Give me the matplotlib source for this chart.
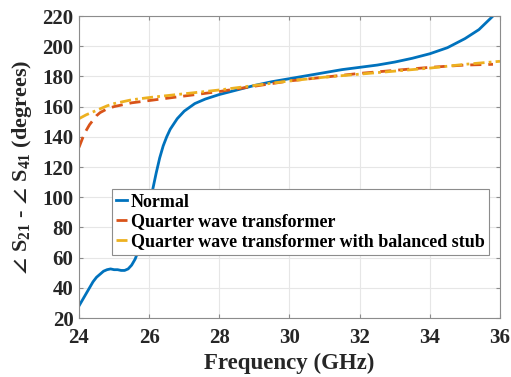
import matplotlib.pyplot as plt
import numpy as np

# Frequency (GHz) and phase difference (degrees)
freq_normal = [24.0, 24.1, 24.2, 24.3, 24.4, 24.5, 24.6, 24.7, 24.8, 24.9, 25.0, 25.1, 25.2, 25.3,
               25.4, 25.5, 25.6, 25.7, 25.8, 25.9, 26.0, 26.1, 26.2, 26.3, 26.4, 26.5, 26.6,
               26.8, 27.0, 27.3, 27.6, 28.0, 28.5, 29.0, 29.5, 30.0, 30.5, 31.0, 31.5, 32.0,
               32.5, 33.0, 33.5, 34.0, 34.5, 35.0, 35.4, 35.8]
phase_normal = [28, 32, 36, 40, 44, 47, 49, 51, 52, 52.5, 52, 52, 51.5, 51.5,
                52.5, 55, 59, 65, 73, 83, 94, 105, 116, 126, 134, 140, 145,
                152, 157, 162, 165, 168, 171, 174, 176.5, 178.5, 180.5, 182.5, 184.5, 186,
                187.5, 189.5, 192, 195, 199, 205, 211, 220]

freq_qwt = [24.0, 24.1, 24.2, 24.3, 24.4, 24.5, 24.6, 24.8, 25.0, 25.5, 26.0, 27.0, 28.0,
            29.0, 30.0, 31.0, 32.0, 33.0, 34.0, 35.0, 35.8]
phase_qwt = [133, 139, 144, 148, 151, 154, 156, 158.5, 160, 162.5, 164, 167, 170,
             173.5, 177, 179.5, 182, 184, 186, 187.5, 188]

freq_bal = [24.0, 24.2, 24.4, 24.6, 24.8, 25.0, 25.5, 26.0, 27.0, 28.0, 29.0, 30.0,
            31.0, 32.0, 33.0, 34.0, 35.0, 36.0]
phase_bal = [152, 154.5, 156.5, 158.5, 160.5, 162, 164.5, 166, 168.5, 171, 174, 177,
             179.5, 181.5, 183.5, 185.5, 188, 190]

plt.rcParams['font.family'] = ['Liberation Serif', 'DejaVu Serif']
plt.rcParams['font.weight'] = 'bold'
plt.rcParams['mathtext.fontset'] = 'custom'
plt.rcParams['mathtext.rm'] = 'Liberation Serif:bold'
plt.rcParams['mathtext.it'] = 'Liberation Serif:bold'
plt.rcParams['mathtext.bf'] = 'Liberation Serif:bold'

fig = plt.figure(figsize=(5.11, 3.77), dpi=100)
ax = fig.add_axes([79 / 511, 1 - 318 / 377, (500 - 79) / 511, (318 - 16) / 377])

ax.plot(freq_normal, phase_normal, color='#0072BD', lw=2, label='Normal')
ax.plot(freq_qwt, phase_qwt, color='#D95319', lw=2, linestyle=(0, (4, 2.5)),
        label='Quarter wave transformer')
ax.plot(freq_bal, phase_bal, color='#EDB120', lw=2, linestyle=(0, (4, 1.5, 1, 1.5)),
        label='Quarter wave transformer with balanced stub')

ax.set_xlim(24, 36)
ax.set_ylim(20, 220)
ax.set_xticks(np.arange(24, 37, 2))
ax.set_yticks(np.arange(20, 221, 20))
ax.grid(True, color='#e6e6e6', lw=0.8)
ax.set_axisbelow(True)
for s in ax.spines.values():
    s.set_color('#8c8c8c')
ax.tick_params(direction='in', length=3, color='#8c8c8c', labelsize=15,
               top=True, right=True)
ax.tick_params(axis='x', pad=7)
ax.tick_params(axis='y', pad=4)
for lab in ax.get_xticklabels() + ax.get_yticklabels():
    lab.set_fontweight('bold')
    lab.set_color('#262626')

ax.set_xlabel('Frequency (GHz)', fontsize=16.5, fontweight='bold', color='#262626', labelpad=4)
ax.set_ylabel(r'$\angle$ S$_{21}$ - $\angle$ S$_{41}$ (degrees)', fontsize=16,
              fontweight='bold', color='#262626', labelpad=6)

leg = ax.legend(loc='lower left', bbox_to_anchor=(0.078, 0.21), fontsize=13,
                handlelength=0.6, handletextpad=0.2, borderpad=0.25, labelspacing=0.15,
                borderaxespad=0, fancybox=False, framealpha=1, edgecolor='#8c8c8c')
for t in leg.get_texts():
    t.set_fontweight('bold')
leg.get_frame().set_linewidth(0.8)

fig.savefig('out.png', dpi=100)
